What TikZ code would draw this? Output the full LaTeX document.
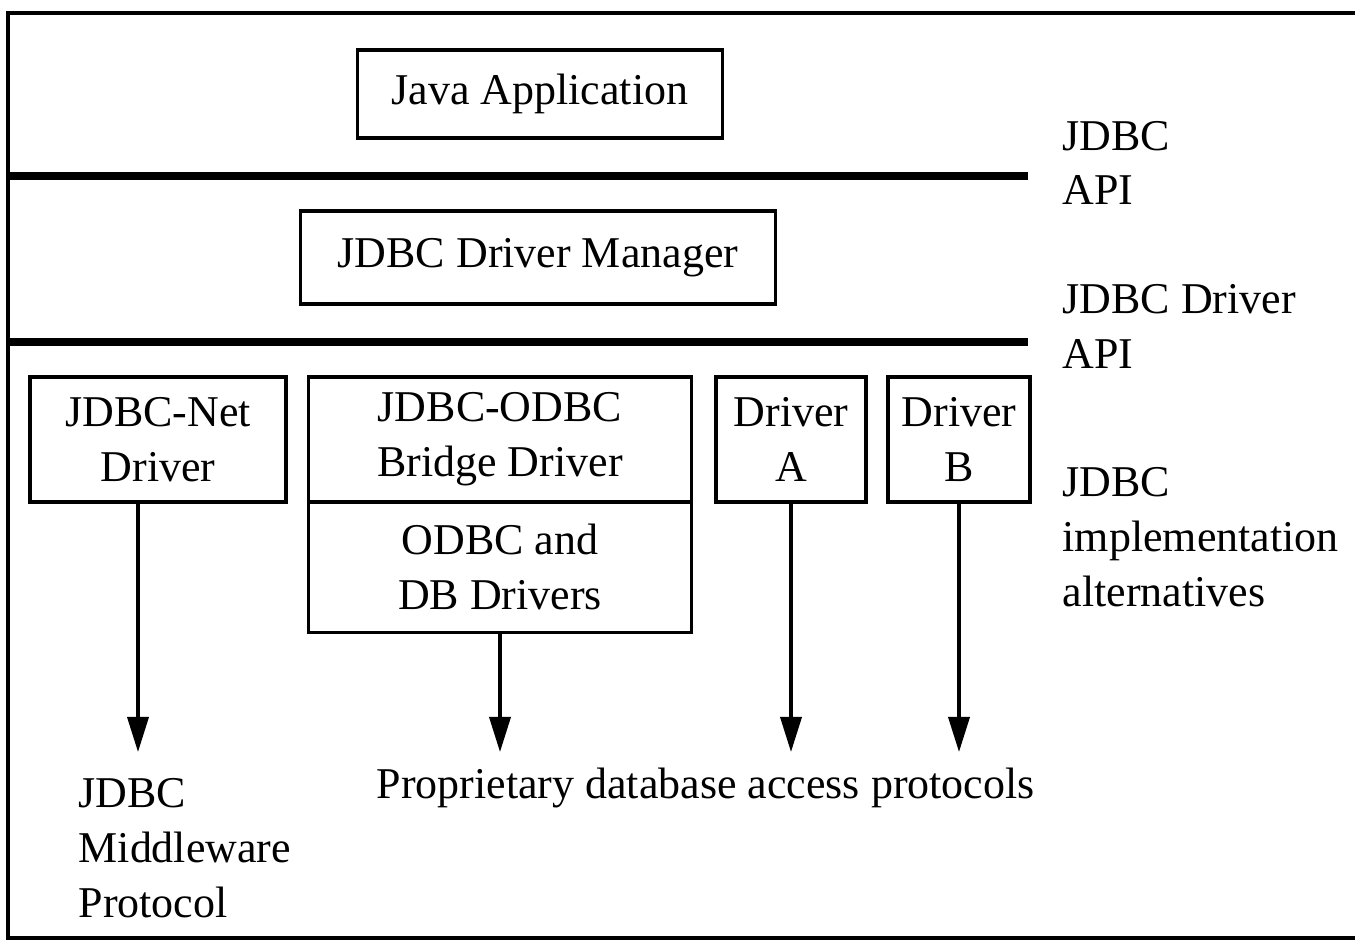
\documentclass[tikz,border=0pt]{standalone}
\usepackage{fontspec}
\setmainfont{Liberation Serif}
\usetikzlibrary{arrows.meta}
\begin{document}
\begin{tikzpicture}[x=0.01cm,y=-0.01cm,
	box/.style={draw,line width=0.9pt,inner sep=0pt,outer sep=0pt,align=center,font=\fontsize{12.5}{15.6}\selectfont},
	lbl/.style={align=left,inner sep=0pt,anchor=west,font=\fontsize{12.5}{15.6}\selectfont},
	bar/.style={line width=2.3pt},
	arr/.style={-{Triangle[width=6pt,length=10pt]},line width=1pt}]
	\useasboundingbox (0,0) rectangle (1355,941);
	\draw[line width=1pt](1355,13)--(8,13)--(8,938)--(1355,938);
	% layers
	\node[box,minimum width=3.64cm,minimum height=0.88cm](app) at (540,94){Java Application};
	\draw[bar](8,176)--(1028,176);
	\node[box,minimum width=4.74cm,minimum height=0.93cm](mgr) at (538,257.5){JDBC Driver Manager};
	\draw[bar](8,342)--(1028,342);
	% drivers
	\node[box,minimum width=2.56cm,minimum height=1.25cm](net) at (158,439.5){JDBC-Net\\Driver};
	\node[box,minimum width=3.82cm,minimum height=1.25cm](bridge) at (500,439.5){JDBC-ODBC\\Bridge Driver};
	\node[box,minimum width=3.82cm,minimum height=1.30cm,anchor=north](odbc) at (bridge.south){ODBC and\\DB Drivers};
	\node[box,minimum width=1.50cm,minimum height=1.25cm](drva) at (791,439.5){Driver\\A};
	\node[box,minimum width=1.42cm,minimum height=1.25cm](drvb) at (959,439.5){Driver\\B};
	% side labels
	\node[lbl](api) at (1062,163){JDBC\\API};
	\node[lbl](drvapi) at (1062,326){JDBC Driver\\API};
	\node[lbl](impl) at (1062,537){JDBC\\implementation\\alternatives};
	\node[lbl](mid) at (78,848){JDBC\\Middleware\\Protocol};
	\node[lbl](prop) at (376,788){Proprietary database access protocols};
	% protocols
	\coordinate (tnet) at (138,752);
	\draw[arr](net.south -| tnet)--(tnet);
	\draw[arr](odbc.south)--(odbc.south |- tnet);
	\draw[arr](drva.south)--(drva.south |- tnet);
	\draw[arr](drvb.south)--(drvb.south |- tnet);
\end{tikzpicture}
\end{document}
